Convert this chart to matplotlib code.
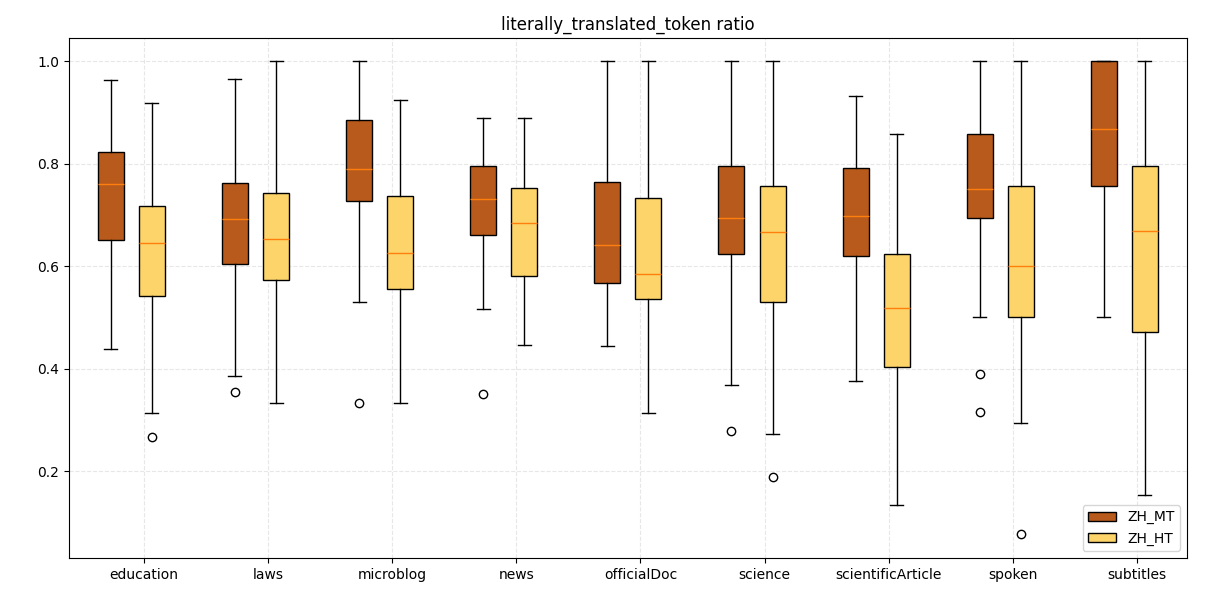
import matplotlib
matplotlib.use('Agg')

import numpy as np
import matplotlib.pyplot as plt
from matplotlib.patches import Patch

categories = ['education', 'laws', 'microblog', 'news', 'officialDoc',
              'science', 'scientificArticle', 'spoken', 'subtitles']

# box statistics: whislo, q1, median, q3, whishi
mt_whislo = [0.438, 0.385, 0.530, 0.516, 0.444, 0.368, 0.376, 0.500, 0.500]
mt_q1 = [0.651, 0.603, 0.727, 0.660, 0.567, 0.623, 0.620, 0.693, 0.757]
mt_med = [0.760, 0.692, 0.790, 0.731, 0.642, 0.693, 0.697, 0.750, 0.867]
mt_q3 = [0.823, 0.762, 0.884, 0.796, 0.763, 0.795, 0.792, 0.858, 1.000]
mt_whishi = [0.963, 0.965, 1.000, 0.889, 1.000, 1.000, 0.932, 1.000, 1.000]
mt_fliers = [[], [0.354], [0.333], [0.350], [], [0.278], [], [0.389, 0.315], []]

ht_whislo = [0.313, 0.333, 0.333, 0.445, 0.313, 0.272, 0.134, 0.293, 0.153]
ht_q1 = [0.541, 0.572, 0.556, 0.580, 0.535, 0.530, 0.403, 0.500, 0.471]
ht_med = [0.645, 0.653, 0.625, 0.684, 0.585, 0.666, 0.518, 0.600, 0.668]
ht_q3 = [0.717, 0.743, 0.737, 0.752, 0.733, 0.757, 0.624, 0.757, 0.795]
ht_whishi = [0.918, 1.000, 0.924, 0.889, 1.000, 1.000, 0.858, 1.000, 1.000]
ht_fliers = [[0.266], [], [], [], [], [0.188], [], [0.077], []]

mt_color = '#B85A1B'
ht_color = '#FCD46A'


def make_stats(lo, q1, med, q3, hi, fl):
    stats = []
    for i in range(len(lo)):
        stats.append({'whislo': lo[i], 'q1': q1[i], 'med': med[i], 'q3': q3[i],
                      'whishi': hi[i], 'fliers': np.array(fl[i])})
    return stats


x = np.arange(len(categories))

fig = plt.figure(figsize=(12.1, 6.03), dpi=100)
ax = fig.add_axes([0.057, 0.0746, 0.924, 0.8624])

bp1 = ax.bxp(make_stats(mt_whislo, mt_q1, mt_med, mt_q3, mt_whishi, mt_fliers),
             positions=x - 0.267, widths=0.21, patch_artist=True, manage_ticks=False)
bp2 = ax.bxp(make_stats(ht_whislo, ht_q1, ht_med, ht_q3, ht_whishi, ht_fliers),
             positions=x + 0.064, widths=0.21, patch_artist=True, manage_ticks=False)

for b in bp1['boxes']:
    b.set_facecolor(mt_color)
for b in bp2['boxes']:
    b.set_facecolor(ht_color)

ax.set_xticks(x)
ax.set_xticklabels(categories)
ax.set_xlim(-0.604, 8.403)
ax.set_ylim(0.0302, 1.045)
ax.set_yticks([0.2, 0.4, 0.6, 0.8, 1.0])
ax.grid(True, linestyle='--', alpha=0.3)
ax.set_axisbelow(True)
ax.set_title('literally_translated_token ratio')

ax.legend(handles=[Patch(facecolor=mt_color, edgecolor='black', label='ZH_MT'),
                   Patch(facecolor=ht_color, edgecolor='black', label='ZH_HT')],
          loc='lower right')

plt.savefig('out.png')
